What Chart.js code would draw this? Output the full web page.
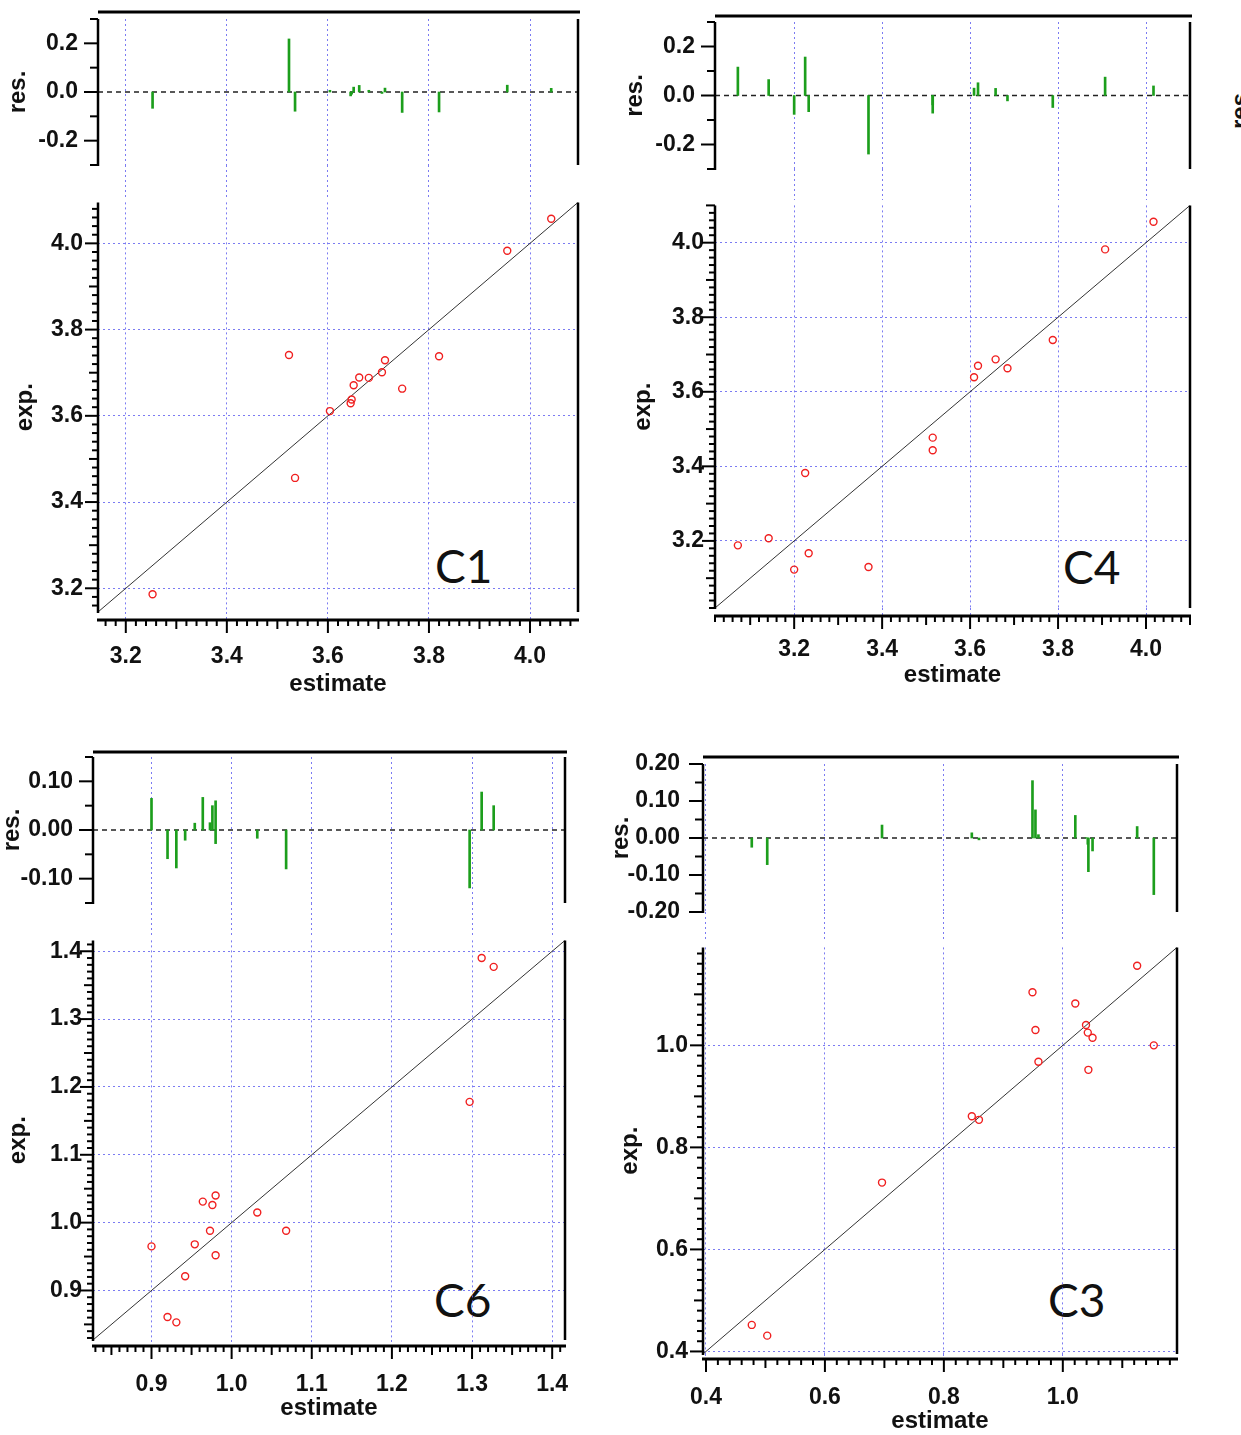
<!DOCTYPE html>
<html>
<head>
<meta charset="utf-8">
<script src="https://cdn.jsdelivr.net/npm/chart.js@4.4.1/dist/chart.umd.min.js"></script>
<style>
  html, body { margin: 0; padding: 0; background: #fff; }
  #page { position: relative; width: 1241px; height: 1435px; overflow: hidden; background: #fff; }
  #page canvas { position: absolute; }
  .tag { position: absolute; font-family: Lato, "Open Sans", sans-serif; font-size: 46px; line-height: 46px; color: #111; }
  .cut { position: absolute; width: 44px; height: 24px; font: bold 24px/24px "Liberation Sans", Arial, sans-serif; color: #111; transform: rotate(-90deg); }
</style>
</head>
<body>
<div id="page">
  <div class="tag" style="left:435px;top:543px">C1</div>
  <div class="tag" style="left:1063px;top:544px">C4</div>
  <div class="tag" style="left:434px;top:1277px">C6</div>
  <div class="tag" style="left:1048px;top:1277px">C3</div>
  <div class="cut" style="left:1218px;top:95px">res.</div>
</div>
<script>
// C1
const c1Estimate = [3.253, 3.523, 3.535, 3.604, 3.645, 3.647, 3.651, 3.662, 3.681, 3.707, 3.713, 3.747, 3.820, 3.955, 4.042];
const c1Exp      = [3.186, 3.741, 3.456, 3.611, 3.629, 3.638, 3.671, 3.689, 3.688, 3.701, 3.729, 3.663, 3.738, 3.983, 4.057];
const c1Resid    = [-0.067, 0.218, -0.079, 0.007, -0.016, -0.009, 0.020, 0.027, 0.007, -0.006, 0.016, -0.084, -0.082, 0.028, 0.015];
const c1Range = [3.145, 4.095];
const c1ResRange = [-0.3, 0.3];
const c1Ticks = [3.2, 3.4, 3.6, 3.8, 4.0];
const c1ResTicks = [-0.2, 0, 0.2];

// C4
const c4Estimate = [3.072, 3.142, 3.200, 3.225, 3.233, 3.369, 3.515, 3.515, 3.609, 3.618, 3.658, 3.685, 3.788, 3.907, 4.017];
const c4Exp      = [3.188, 3.207, 3.123, 3.382, 3.167, 3.130, 3.477, 3.443, 3.639, 3.670, 3.687, 3.663, 3.739, 3.982, 4.056];
const c4Resid    = [0.116, 0.065, -0.077, 0.157, -0.066, -0.239, -0.038, -0.072, 0.030, 0.052, 0.029, -0.022, -0.049, 0.075, 0.039];
const c4Range = [3.02, 4.10];
const c4ResRange = [-0.3, 0.3];
const c4Ticks = [3.2, 3.4, 3.6, 3.8, 4.0];
const c4ResTicks = [-0.2, 0, 0.2];

// C6
const c6Estimate = [0.900, 0.920, 0.931, 0.942, 0.954, 0.964, 0.973, 0.976, 0.980, 0.980, 1.032, 1.068, 1.297, 1.312, 1.327];
const c6Exp      = [0.965, 0.861, 0.853, 0.921, 0.968, 1.031, 0.988, 1.026, 1.040, 0.952, 1.015, 0.988, 1.178, 1.390, 1.377];
const c6Resid    = [0.065, -0.059, -0.078, -0.021, 0.014, 0.067, 0.015, 0.050, 0.060, -0.028, -0.017, -0.080, -0.119, 0.078, 0.050];
const c6Range = [0.827, 1.416];
const c6ResRange = [-0.15, 0.15];
const c6Ticks = [0.9, 1.0, 1.1, 1.2, 1.3, 1.4];
const c6ResTicks = [-0.1, 0, 0.1];

// C3
const c3Estimate = [0.477, 0.503, 0.696, 0.847, 0.859, 0.949, 0.954, 0.959, 1.021, 1.039, 1.042, 1.050, 1.043, 1.125, 1.153];
const c3Exp      = [0.452, 0.431, 0.731, 0.861, 0.854, 1.104, 1.030, 0.968, 1.082, 1.040, 1.025, 1.015, 0.952, 1.156, 1.000];
const c3Resid    = [-0.025, -0.072, 0.035, 0.014, -0.005, 0.155, 0.076, 0.009, 0.061, 0.001, -0.017, -0.035, -0.091, 0.031, -0.153];
const c3Range = [0.395, 1.192];
const c3ResRange = [-0.2, 0.2];
const c3Ticks = [0.4, 0.6, 0.8, 1.0];
const c3ResTicks = [-0.2, -0.1, 0, 0.1, 0.2];

const gridBlue = 'rgba(100, 100, 240, 0.85)';
const dots = [2, 3];
const family = '"Liberation Sans", Arial, sans-serif';
const tickFont = { family, size: 23, weight: 'bold' };
const titleFont = { family, size: 24, weight: 'bold', lineHeight: 1 };

// page boxes and plot areas, in page pixels
const panels = [
  {
    est: c1Estimate, exp: c1Exp, resid: c1Resid, range: c1Range, resRange: c1ResRange,
    ticks: c1Ticks, resTicks: c1ResTicks, digits: 1, resDigits: 1,
    L: 98, R: 578,
    resBox: { left: 0, top: 0, w: 600, h: 197 }, resT: 19, resB: 165, bar: 7, resPad: 12, resTitlePad: 6,
    scBox: { left: 0, top: 197, w: 600, h: 503 }, scB: 612, gap: 8, xPad: 23, yPad: 15, expTitlePad: 13, estTitlePad: 4,
    axisTicks: { minor: 0.02, mid: 0.1, major: 0.2 }, resAxisTicks: { minor: 0.1, major: 0.2 }
  },
  {
    est: c4Estimate, exp: c4Exp, resid: c4Resid, range: c4Range, resRange: c4ResRange,
    ticks: c4Ticks, resTicks: c4ResTicks, digits: 1, resDigits: 1,
    L: 715, R: 1190,
    resBox: { left: 610, top: 0, w: 631, h: 200 }, resT: 22, resB: 169, bar: 6, resPad: 12, resTitlePad: 13,
    scBox: { left: 610, top: 200, w: 631, h: 495 }, scB: 608, gap: 8, xPad: 20, yPad: 11, expTitlePad: 21, estTitlePad: 8,
    axisTicks: { minor: 0.02, mid: 0.1, major: 0.2 }, resAxisTicks: { minor: 0.1, major: 0.2 }
  },
  {
    est: c6Estimate, exp: c6Exp, resid: c6Resid, range: c6Range, resRange: c6ResRange,
    ticks: c6Ticks, resTicks: c6ResTicks, digits: 1, resDigits: 2,
    L: 93, R: 565,
    resBox: { left: 0, top: 730, w: 600, h: 205 }, resT: 757, resB: 903, bar: 5, resPad: 12, resTitlePad: 0,
    scBox: { left: 0, top: 935, w: 600, h: 495 }, scB: 1340, gap: 6, xPad: 25, yPad: 11, expTitlePad: 6, estTitlePad: 10,
    axisTicks: { minor: 0.01, mid: 0.05, major: 0.1 }, resAxisTicks: { minor: 0.05, major: 0.1 }
  },
  {
    est: c3Estimate, exp: c3Exp, resid: c3Resid, range: c3Range, resRange: c3ResRange,
    ticks: c3Ticks, resTicks: c3ResTicks, digits: 1, resDigits: 2,
    L: 703, R: 1177,
    resBox: { left: 600, top: 735, w: 641, h: 207 }, resT: 764, resB: 912, bar: 7, resPad: 15, resTitlePad: 9,
    scBox: { left: 600, top: 942, w: 641, h: 493 }, scB: 1354, gap: 5, xPad: 25, yPad: 15, expTitlePad: 18, estTitlePad: 2,
    axisTicks: { minor: 0.02, mid: 0.1, major: 0.2 }, resAxisTicks: { minor: 0.05, major: 0.1 }
  }
];

function ticksAlong(min, max, step) {
  const out = [];
  for (let i = Math.ceil(min / step - 1e-6); i * step <= max + 1e-9; i++) out.push(i * step);
  return out;
}
function onStep(v, step) {
  const q = v / step;
  return Math.abs(q - Math.round(q)) < 1e-6;
}
function tickLen(v, t) {
  if (onStep(v, t.major)) return t.majorLen;
  if (t.mid && onStep(v, t.mid)) return t.midLen;
  return t.minorLen;
}

// black axis frame with outward minor/major ticks, Igor style
const igorFrame = {
  id: 'igorFrame',
  afterDraw(chart, args, o) {
    const { ctx, chartArea: a, scales: { x, y } } = chart;
    const seg = (x1, y1, x2, y2, w) => {
      ctx.lineWidth = w;
      ctx.beginPath();
      ctx.moveTo(x1, y1);
      ctx.lineTo(x2, y2);
      ctx.stroke();
    };
    ctx.save();
    ctx.strokeStyle = '#000';
    seg(a.left, a.top, a.left, a.bottom + 1, 2.5);
    ticksAlong(y.min, y.max, o.yTicks.minor).forEach(v => {
      const py = y.getPixelForValue(v);
      seg(a.left, py, a.left - tickLen(v, o.yTicks), py, 2);
    });
    seg(a.right, a.top, a.right, a.bottom, 2.5);
    if (o.topBar) seg(a.left, a.top - o.topBar, a.right + 2, a.top - o.topBar, 3);
    if (o.xTicks) {
      const by = a.bottom + o.gap;
      seg(a.left - 1, by, a.right + 1, by, 3);
      ticksAlong(x.min, x.max, o.xTicks.minor).forEach(v => {
        const px = x.getPixelForValue(v);
        seg(px, by, px, by + tickLen(v, o.xTicks), 2);
      });
    }
    ctx.restore();
  }
};

function addCanvas(box) {
  const c = document.createElement('canvas');
  c.width = box.w;
  c.height = box.h;
  c.style.left = box.left + 'px';
  c.style.top = box.top + 'px';
  document.getElementById('page').appendChild(c);
  return c;
}

const fixTicks = values => scale => { scale.ticks = values.map(v => ({ value: v })); };
// fixed axis box, and no extra room asked for the edge labels
const fixBox = (key, size) => scale => {
  scale[key] = size;
  scale.paddingTop = scale.paddingBottom = scale.paddingLeft = scale.paddingRight = 0;
};

function drawPanel(p) {
  const xLen = { majorLen: 13, midLen: 9, minorLen: 6 };

  // residuals: sticks from zero
  const rb = p.resBox;
  new Chart(addCanvas(rb), {
    type: 'bar',
    data: {
      datasets: [
        {
          type: 'line',
          data: [{ x: p.range[0], y: 0 }, { x: p.range[1], y: 0 }],
          borderColor: '#222', borderWidth: 1.5, borderDash: [5, 4], pointRadius: 0, order: 2
        },
        {
          data: p.est.map((e, i) => ({ x: e, y: p.resid[i] })),
          backgroundColor: '#1c9e1c', barThickness: 2, order: 1
        }
      ]
    },
    options: {
      animation: false, responsive: false, devicePixelRatio: 1,
      layout: { padding: { top: p.resT - rb.top, right: rb.left + rb.w - p.R, bottom: 0, left: 0 } },
      plugins: {
        legend: { display: false }, tooltip: { enabled: false },
        igorFrame: { yTicks: { ...p.resAxisTicks, majorLen: 14, minorLen: 8 }, topBar: p.bar }
      },
      scales: {
        x: {
          type: 'linear', min: p.range[0], max: p.range[1], offset: false,
          grid: { offset: false, color: gridBlue, lineWidth: 1, drawTicks: true, tickLength: rb.top + rb.h - p.resB,
                  tickColor: gridBlue, tickWidth: 1, tickBorderDash: dots },
          border: { display: false, dash: dots },
          ticks: { display: false },
          afterBuildTicks: fixTicks(p.ticks),
          afterFit: fixBox('height', rb.top + rb.h - p.resB)
        },
        y: {
          min: p.resRange[0], max: p.resRange[1], beginAtZero: false,
          grid: { display: false }, border: { display: false },
          ticks: { font: tickFont, color: '#111', padding: p.resPad, callback: v => v.toFixed(p.resDigits) },
          title: { display: true, text: 'res.', font: titleFont, color: '#111', padding: { top: p.resTitlePad, bottom: 0 } },
          afterBuildTicks: fixTicks(p.resTicks),
          afterFit: fixBox('width', p.L - rb.left)
        }
      }
    },
    plugins: [igorFrame]
  });

  // exp. against estimate, with the identity line
  const sb = p.scBox;
  new Chart(addCanvas(sb), {
    type: 'scatter',
    data: {
      datasets: [
        {
          type: 'line',
          data: [{ x: p.range[0], y: p.range[0] }, { x: p.range[1], y: p.range[1] }],
          borderColor: '#333', borderWidth: 1, pointRadius: 0, order: 2
        },
        {
          data: p.est.map((e, i) => ({ x: e, y: p.exp[i] })),
          pointRadius: 3.5, pointBorderWidth: 1.4, borderColor: '#f02020',
          backgroundColor: 'rgba(0,0,0,0)', order: 1
        }
      ]
    },
    options: {
      animation: false, responsive: false, devicePixelRatio: 1,
      layout: { padding: { top: 0, right: sb.left + sb.w - p.R, bottom: 0, left: 0 } },
      plugins: {
        legend: { display: false }, tooltip: { enabled: false },
        igorFrame: { yTicks: { ...p.axisTicks, ...xLen }, xTicks: { ...p.axisTicks, ...xLen }, gap: p.gap }
      },
      scales: {
        x: {
          type: 'linear', min: p.range[0], max: p.range[1],
          grid: { color: gridBlue, lineWidth: 1, drawTicks: true, tickLength: p.gap,
                  tickColor: gridBlue, tickWidth: 1, tickBorderDash: dots },
          border: { display: false, dash: dots },
          ticks: { font: tickFont, color: '#111', padding: p.xPad, maxRotation: 0, callback: v => v.toFixed(p.digits) },
          title: { display: true, text: 'estimate', font: titleFont, color: '#111', padding: { top: 0, bottom: p.estTitlePad } },
          afterBuildTicks: fixTicks(p.ticks),
          afterFit: fixBox('height', sb.top + sb.h - p.scB)
        },
        y: {
          type: 'linear', min: p.range[0], max: p.range[1],
          grid: { color: gridBlue, lineWidth: 1, drawTicks: false },
          border: { display: false, dash: dots },
          ticks: { font: tickFont, color: '#111', padding: p.yPad, callback: v => v.toFixed(p.digits) },
          title: { display: true, text: 'exp.', font: titleFont, color: '#111', padding: { top: p.expTitlePad, bottom: 0 } },
          afterBuildTicks: fixTicks(p.ticks),
          afterFit: fixBox('width', p.L - sb.left)
        }
      }
    },
    plugins: [igorFrame]
  });
}

panels.forEach(drawPanel);
</script>
</body>
</html>
